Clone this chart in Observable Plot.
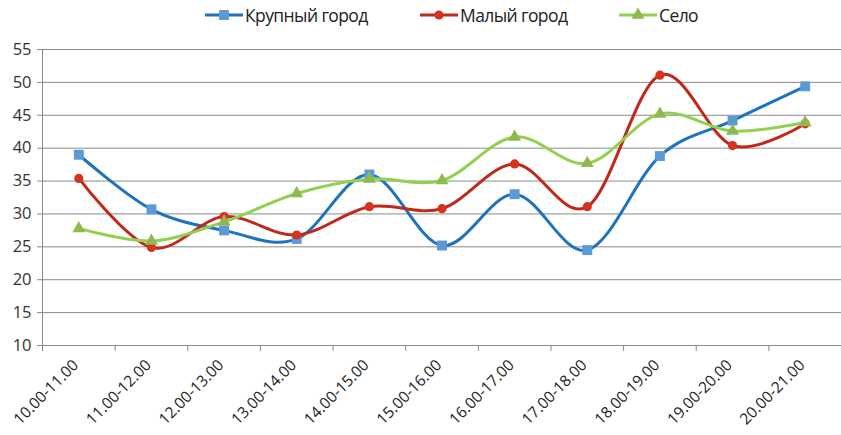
<!DOCTYPE html>
<html><head><meta charset="utf-8">
<script src="https://cdn.jsdelivr.net/npm/d3@7"></script>
<script src="https://cdn.jsdelivr.net/npm/@observablehq/plot@0.6"></script>
<style>
body{margin:0;background:#fff;font-family:"Open Sans",sans-serif;}
#legend{height:35px;position:relative;font-size:17.5px;color:#222;}
.item{position:absolute;top:3px;display:flex;align-items:center;letter-spacing:-0.6px;}
.item svg{margin-right:2px;}
</style></head>
<body>
<div id="legend"></div>
<div id="chart"></div>
<script>
const categories = ["10.00-11.00","11.00-12.00","12.00-13.00","13.00-14.00","14.00-15.00","15.00-16.00","16.00-17.00","17.00-18.00","18.00-19.00","19.00-20.00","20.00-21.00"];
const bigCity = [39.0, 30.7, 27.5, 26.2, 36.0, 25.2, 33.0, 24.5, 38.8, 44.2, 49.4];
const smallCity = [35.4, 24.9, 29.6, 26.8, 31.1, 30.8, 37.6, 31.1, 51.1, 40.4, 43.7];
const village = [27.8, 25.9, 28.8, 33.1, 35.3, 35.1, 41.7, 37.7, 45.2, 42.6, 43.9];
const seriesNames = ["Крупный город","Малый город","Село"];
const yTicks = [10,15,20,25,30,35,40,45,50,55];

const series = [
  {name: seriesNames[0], values: bigCity, line: "#1f72bd", fill: "#5b9bd5", symbol: "square", r: 5.6},
  {name: seriesNames[1], values: smallCity, line: "#c0281c", fill: "#d7321e", symbol: "circle", r: 4.6},
  {name: seriesNames[2], values: village, line: "#92d050", fill: "#8fb84e", symbol: "triangle", r: 4.8}
];

const idx = categories.map((c,i)=>i);
const boundaries = d3.range(-0.5, categories.length, 1);

const marks = [
  Plot.gridY(yTicks, {stroke: "#8a8a8a", strokeOpacity: 1, strokeWidth: 1}),
  Plot.axisY(yTicks, {tickSize: 5, tickPadding: 6, stroke: "#8a8a8a", fill: "#333", fontSize: 16.5, tickFormat: d => d, label: null}),
  Plot.axisX(boundaries, {tickSize: 6, tickFormat: () => "", stroke: "#8a8a8a", label: null}),
  Plot.ruleX([-0.5], {stroke: "#8a8a8a"}),
  Plot.ruleY([10], {stroke: "#8a8a8a"}),
  Plot.text(categories, {x: (d,i)=>i, y: 10, text: d=>d, rotate: -45, textAnchor: "end", dx: -3, dy: 17, fontSize: 15.5, fill: "#222"})
];
for (const s of series) {
  marks.push(Plot.line(idx, {x: i=>i, y: i=>s.values[i], stroke: s.line, strokeWidth: 3, curve: "cardinal"}));
  marks.push(Plot.dot(idx, {x: i=>i, y: i=>s.values[i], symbol: s.symbol, r: s.r, fill: s.fill, stroke: "none"}));
}

const chart = Plot.plot({
  width: 841, height: 400,
  marginLeft: 42, marginRight: 0, marginTop: 14, marginBottom: 90,
  style: {fontFamily: "Open Sans, sans-serif", background: "#fff", overflow: "visible"},
  x: {domain: [-0.5, categories.length - 0.5], axis: null},
  y: {domain: [10, 55], axis: null},
  marks
});
document.getElementById("chart").appendChild(chart);

// legend
const leg = document.getElementById("legend");
const pos = [205, 420, 619];
series.forEach((s, k) => {
  const div = document.createElement("div");
  div.className = "item";
  div.style.left = pos[k] + "px";
  const sym = d3.symbol(s.symbol === "square" ? d3.symbolSquare : s.symbol === "circle" ? d3.symbolCircle : d3.symbolTriangle, Math.PI * s.r * s.r)();
  div.innerHTML = `<svg width="38" height="20"><line x1="0" y1="10" x2="38" y2="10" stroke="${s.line}" stroke-width="3"/><path d="${sym}" transform="translate(19,10)" fill="${s.fill}"/></svg><span>${s.name}</span>`;
  leg.appendChild(div);
});
</script>
</body></html>
